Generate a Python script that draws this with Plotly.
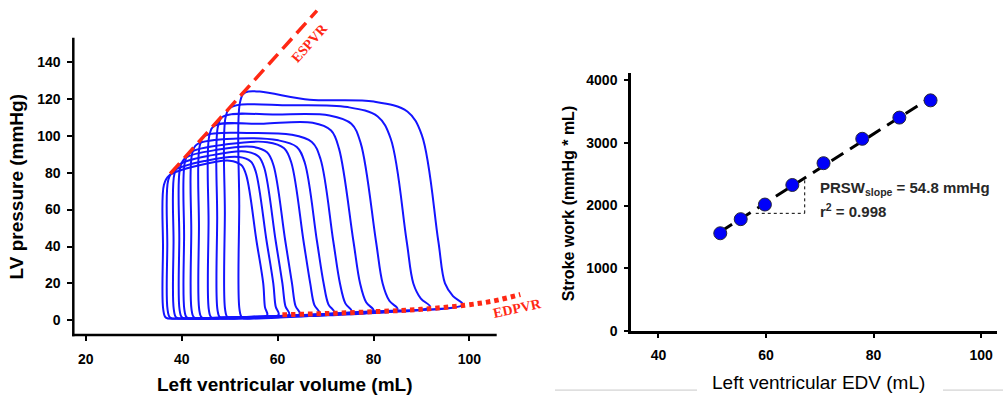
import numpy as np
import plotly.graph_objects as go

W, H = 1003, 402

# ---------------- Left panel: PV loops ----------------
loop_vl   = [52.0, 49.0, 47.4, 45.6, 43.6, 42.0, 40.5, 39.5, 38.3, 37.0, 36.1]   # isovolumic relaxation volume
loop_pes  = [123.5, 115.5, 110.5, 105.5, 100.0, 95.5, 91.0, 88.0, 84.5, 81.0, 78.5]  # end-systolic pressure
loop_ptop = [119.5, 116.5, 111.5, 106.5, 101.5, 98.5, 95.5, 92.5, 89.5, 86.5, 84.0]  # mid-ejection pressure
loop_psh  = [118.5, 115.5, 111.0, 107.0, 100.5, 97.5, 96.5, 94.0, 91.5, 88.5, 86.5]  # early-ejection pressure
loop_vr   = [93.5, 86.9, 80.5, 75.8, 71.6, 68.2, 65.4, 61.6, 59.6, 57.7, 55.6]   # contraction volume at 43 mmHg
loop_edv  = [98.6, 91.8, 85.0, 80.0, 75.5, 71.8, 68.7, 64.6, 62.4, 60.2, 57.8]
loop_edp  = [8.6, 7.3, 6.1, 5.3, 4.7, 4.2, 3.9, 3.4, 3.2, 3.0, 2.7]
loop_cw   = [10.0, 9.0, 6.5, 5.5, 6.0, 5.5, 5.0, 4.5, 4.0, 3.5, 3.5]  # shoulder width (mL)
loop_ch   = [18, 17, 15, 14, 13, 12, 11, 10, 9, 8, 8]                 # shoulder height (mmHg)

espvr_v = [37.6, 68.2]
espvr_p = [79.4, 167.7]
edpvr_v = [61.0, 70.0, 80.0, 90.0, 99.0, 105.0, 110.6]
edpvr_p = [3.0, 3.7, 4.7, 6.0, 8.2, 10.5, 14.0]

# ---------------- Right panel: stroke work vs EDV ----------------
edv_ml = [51.5, 55.3, 59.8, 64.9, 70.7, 77.9, 84.8, 90.6]
sw = [1558, 1783, 2016, 2328, 2676, 3065, 3403, 3678]

BLUE = "rgb(20,20,255)"
RED = "rgb(255,40,20)"
SANS = "Liberation Sans, Arial, sans-serif"
SERIF = "Liberation Serif, Times New Roman, serif"


def loop_vertices(vl, pes, ptop, psh, vr, edv, edp, cw, ch):
    tilt = 0.06
    vD = vr - tilt * (psh - ch - 43)
    pts = [
        (edv, edp),
        (vr + 1.4 + 0.45 * (edv - vr - 1.4), edp + 4.5),
        (vr + 1.4, 20),
        (vr, 43),
        (vD, psh - ch),
        (vD - 0.3 * cw, psh - 0.3 * ch),
        (vD - cw, psh),
        (0.5 * (vD - cw + vl + 1.3), ptop),
        (vl + 1.3, pes),
        (vl + 0.2, pes - 5),
        (vl, 0.5 * pes),
        (vl + 0.05, 6),
        (vl + 0.6, 1.5),
        (vl + 3.0, 1.0),
        (0.5 * (vl + 3 + edv), 0.5 * (1.0 + edp) - 0.3),
        (edv, edp),
    ]
    return [p[0] for p in pts], [p[1] for p in pts]


fig = go.Figure()

for i in range(len(loop_vl)):
    vx, vy = loop_vertices(loop_vl[i], loop_pes[i], loop_ptop[i], loop_psh[i],
                           loop_vr[i], loop_edv[i], loop_edp[i], loop_cw[i], loop_ch[i])
    fig.add_trace(go.Scatter(x=vx, y=vy, mode="lines",
                             line=dict(color=BLUE, width=2, shape="spline", smoothing=1.0),
                             xaxis="x", yaxis="y", hoverinfo="skip", showlegend=False))

fig.add_trace(go.Scatter(x=espvr_v, y=espvr_p, mode="lines",
                         line=dict(color=RED, width=3.5, dash="14px,7px"),
                         xaxis="x", yaxis="y", showlegend=False))
fig.add_trace(go.Scatter(x=edpvr_v, y=edpvr_p, mode="lines",
                         line=dict(color=RED, width=5, dash="4.5px,4px", shape="spline"),
                         xaxis="x", yaxis="y", showlegend=False))

# right panel
coef = np.polyfit(edv_ml, sw, 1)
fx = [min(edv_ml), max(edv_ml)]
fy = [coef[0] * v + coef[1] for v in fx]
fig.add_trace(go.Scatter(x=fx, y=fy, mode="lines",
                         line=dict(color="black", width=3, dash="14px,8px"),
                         xaxis="x2", yaxis="y2", showlegend=False))
fig.add_trace(go.Scatter(x=edv_ml, y=sw, mode="markers",
                         marker=dict(color="rgb(0,0,250)", size=13,
                                     line=dict(color="rgb(40,40,60)", width=1)),
                         xaxis="x2", yaxis="y2", showlegend=False))

# slope triangle (dotted)
fig.add_shape(type="line", xref="x2", yref="y2", x0=58.1, y0=1876, x1=67.2, y1=1876,
              line=dict(color="black", width=1, dash="dot"))
fig.add_shape(type="line", xref="x2", yref="y2", x0=67.2, y0=1876, x1=67.2, y1=2431,
              line=dict(color="black", width=1, dash="dot"))


def px(x):
    return x / W


def py(y):
    return 1 - y / H


# left axis lines (drawn in paper coords so the data lines can extend beyond)
fig.add_shape(type="line", xref="paper", yref="paper", x0=px(73.3), x1=px(73.3),
              y0=py(342.9), y1=py(37.7), line=dict(color="black", width=2.5))
fig.add_shape(type="line", xref="paper", yref="paper", x0=px(72.1), x1=px(496.7),
              y0=py(341.7), y1=py(341.7), line=dict(color="black", width=2.5))

# faint bottom rules
fig.add_shape(type="line", xref="paper", yref="paper", x0=px(555), x1=px(697),
              y0=py(398), y1=py(398), line=dict(color="rgb(200,200,200)", width=1))
fig.add_shape(type="line", xref="paper", yref="paper", x0=px(943), x1=px(1003),
              y0=py(398), y1=py(398), line=dict(color="rgb(200,200,200)", width=1))

tickfont = dict(family=SANS, size=14, color="black", weight="bold")

fig.update_layout(
    width=W, height=H, margin=dict(l=0, r=0, t=0, b=0),
    paper_bgcolor="white", plot_bgcolor="rgba(0,0,0,0)",
    xaxis=dict(domain=[px(73.3), px(545)], range=[17.4, 115.75], anchor="y",
               tickvals=[20, 40, 60, 80, 100], ticks="outside", ticklen=5, tickwidth=2,
               tickcolor="black", showline=False, showgrid=False, zeroline=False,
               tickfont=tickfont, ticklabelstandoff=6),
    yaxis=dict(domain=[py(341.7), py(5)], range=[-7.94, 170.3], anchor="x",
               tickvals=[0, 20, 40, 60, 80, 100, 120, 140], ticks="outside", ticklen=5,
               tickwidth=2, tickcolor="black", showline=False, showgrid=False,
               zeroline=False, tickfont=tickfont, ticklabelstandoff=4),
    xaxis2=dict(domain=[px(631), px(996.7)], range=[34.9, 102.9], anchor="y2",
                tickvals=[40, 60, 80, 100], ticks="outside", ticklen=4, tickwidth=2,
                tickcolor="black", showline=True, linewidth=2.5, linecolor="black",
                showgrid=False, zeroline=False, tickfont=tickfont, ticklabelstandoff=6),
    yaxis2=dict(domain=[py(337.5), py(74)], range=[0, 4109], anchor="x2",
                tickvals=[0, 1000, 2000, 3000, 4000], ticks="outside", ticklen=4,
                tickwidth=2, tickcolor="black", showline=True, linewidth=2.5,
                linecolor="black", showgrid=False, zeroline=False, tickfont=tickfont,
                ticklabelstandoff=4),
)

ann = [
    dict(text="Left ventricular volume (mL)", x=px(285), y=py(392.7),
         font=dict(family=SANS, size=19, color="black", weight="bold")),
    dict(text="LV pressure (mmHg)", x=px(16.7), y=py(190), textangle=-90,
         font=dict(family=SANS, size=19, color="black", weight="bold")),
    dict(text="Left ventricular EDV (mL)", x=px(818), y=py(390),
         font=dict(family=SANS, size=19, color="black")),
    dict(text="Stroke work (mmHg * mL)", x=px(568.3), y=py(206.7), textangle=-90,
         font=dict(family=SANS, size=16, color="black", weight="bold")),
    dict(text="ESPVR", x=px(309), y=py(43), textangle=-48.6,
         font=dict(family=SERIF, size=14, color=RED, weight="bold")),
    dict(text="EDPVR", x=px(517), y=py(315), textangle=-12,
         font=dict(family=SERIF, size=14, color=RED, weight="bold")),
    dict(text="PRSW<sub>slope</sub> = 54.8 mmHg", x=px(817.7), y=py(192), xanchor="left",
         font=dict(family=SANS, size=15, color="rgb(40,40,40)", weight="bold")),
    dict(text="r<sup>2</sup> = 0.998", x=px(817.7), y=py(214), xanchor="left",
         font=dict(family=SANS, size=15, color="rgb(40,40,40)", weight="bold")),
]
for a in ann:
    a.setdefault("xanchor", "center")
    a.update(xref="paper", yref="paper", showarrow=False, yanchor="middle")
    fig.add_annotation(**a)

fig.write_html("out.html")
